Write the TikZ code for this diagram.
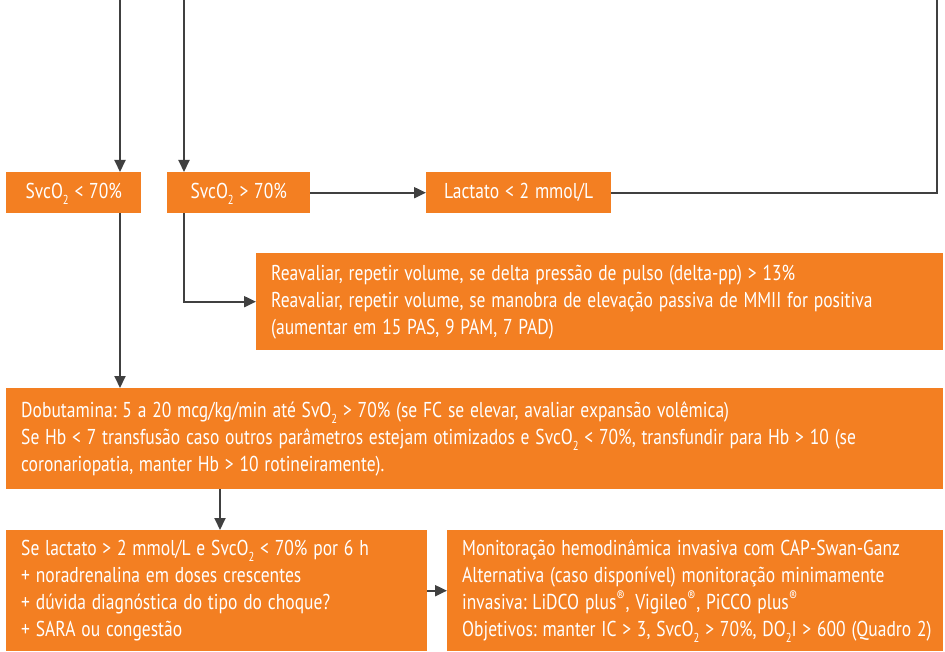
\documentclass[tikz,border=0pt]{standalone}
\usepackage{fontspec}
\setmainfont[FakeStretch=0.815]{PT Sans}
\usetikzlibrary{arrows.meta}
\definecolor{boxorange}{RGB}{243,127,34}
\definecolor{linegray}{RGB}{64,64,64}
\newcommand\subtwo{\raisebox{-0.55ex}{\fontsize{13}{13}\selectfont 2}}
\tikzset{
  boxbase/.style={fill=boxorange, text=white, anchor=north west,
    font=\fontsize{21.5}{27}\selectfont,
    execute at begin node={\spaceskip=5.8pt\xspaceskip=5.8pt\relax}},
  box/.style={boxbase, inner xsep=15pt, inner ysep=0pt, align=left},
  centerbox/.style={boxbase, inner sep=0pt, align=center},
  link/.style={draw=linegray, line width=2pt},
  arr/.style={link, -{Triangle[length=12pt,width=11pt]}}
}
\begin{document}
\begin{tikzpicture}[x=1pt,y=-1pt]
\useasboundingbox (0,0) rectangle (945,652);

% first row
\node[centerbox, minimum width=135pt, minimum height=41pt] (low) at (6,172) {Svc\strut O\subtwo{} < 70\%};
\node[centerbox, minimum width=143pt, minimum height=41pt] (high) at (167,172) {Svc\strut O\subtwo{} > 70\%};
\node[centerbox, minimum width=185pt, minimum height=41pt] (lac) at (426,172) {Lactato < 2 mmol/L};

% reassessment box
\node[box, minimum width=687pt, minimum height=97pt, text width=657pt] (reav) at (256,253)
  {Reavaliar, repetir volume, se delta pressão de pulso (delta-pp) > 13\%\\
   Reavaliar, repetir volume, se manobra de elevação passiva de MMII for positiva\\
   (aumentar em 15 PAS, 9 PAM, 7 PAD)};

% dobutamine box
\node[box, minimum width=937pt, minimum height=101pt, text width=907pt] (dob) at (6,388)
  {Dobutamina: 5 a 20 mcg/kg/min até SvO\subtwo{} > 70\% (se FC se elevar, avaliar expansão volêmica)\\
   Se Hb < 7 transfusão caso outros parâmetros estejam otimizados e SvcO\subtwo{} < 70\%, transfundir para Hb > 10 (se\\
   coronariopatia, manter Hb > 10 rotineiramente).};

% bottom row
\node[box, minimum width=421pt, minimum height=121pt, text width=391pt] (sel) at (6,530)
  {Se lactato > 2 mmol/L e SvcO\subtwo{} < 70\% por 6 h\\
   + noradrenalina em doses crescentes\\
   + dúvida diagnóstica do tipo do choque?\\
   + SARA ou congestão};
\node[box, minimum width=496pt, minimum height=121pt, text width=466pt] (mon) at (447,530)
  {Monitoração hemodinâmica invasiva com CAP-Swan-Ganz\\
   Alternativa (caso disponível) monitoração minimamente\\
   invasiva: LiDCO plus\textsuperscript{®}, Vigileo\textsuperscript{®}, PiCCO plus\textsuperscript{®}\\
   \makebox[\linewidth][l]{Objetivos: manter IC > 3, SvcO\subtwo{} > 70\%, DO\subtwo{}I > 600 (Quadro 2)}};

% incoming lines from above
\coordinate (in1) at (120,0);
\coordinate (in2) at (184,0);
\coordinate (in3) at (937,0);
\coordinate (dobx) at (220,0);

\draw[arr] (in1) -- (in1 |- low.north);
\draw[arr] (in2) -- (in2 |- high.north);
\draw[arr] (high.east) -- (lac.west);
\draw[link] (lac.east) -| (in3);
\draw[arr] (in2 |- high.south) |- (reav.west);
\draw[arr] (in1 |- low.south) -- (in1 |- dob.north);
\draw[arr] (dobx |- dob.south) -- (dobx |- sel.north);
\draw[arr] (sel.east) -- (mon.west);
\end{tikzpicture}
\end{document}
